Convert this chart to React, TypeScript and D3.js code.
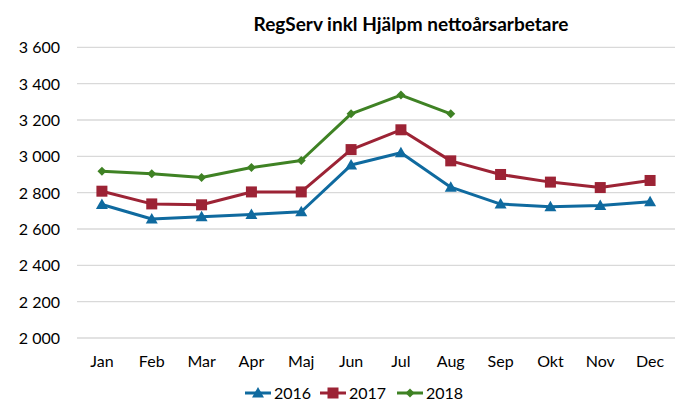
import React from "react";
import * as d3 from "d3";

const months = ["Jan","Feb","Mar","Apr","Maj","Jun","Jul","Aug","Sep","Okt","Nov","Dec"];
const v2016 = [2735,2655,2667,2680,2695,2952,3020,2830,2737,2723,2729,2750];
const v2017 = [2808,2738,2733,2804,2804,3037,3146,2975,2900,2858,2828,2867];
const v2018 = [2918,2904,2883,2938,2977,3234,3337,3234];
const yTicks = [2000,2200,2400,2600,2800,3000,3200,3400,3600];
const seriesNames = ["2016","2017","2018"];
const colors = ["#0F6A9F","#9C2335","#3F8224"];
const title = "RegServ inkl Hjälpm nettoårsarbetare";

const FONT = "Lato, 'Open Sans', sans-serif";

function Marker({ kind, x, y, color }: { kind: number; x: number; y: number; color: string }) {
  if (kind === 0) {
    const s = 6;
    return <path d={`M${x},${y - s} L${x + s},${y + s * 0.75} L${x - s},${y + s * 0.75} Z`} fill={color} />;
  }
  if (kind === 1) {
    return <rect x={x - 5.5} y={y - 5.5} width={11} height={11} fill={color} />;
  }
  return <path d={`M${x},${y - 4.5} L${x + 4.5},${y} L${x},${y + 4.5} L${x - 4.5},${y} Z`} fill={color} />;
}

export default function App() {
  const W = 682, H = 401;
  const x = d3.scaleBand().domain(months).range([77, 675]);
  const y = d3.scaleLinear().domain([2000, 3600]).range([338, 47.3]);
  const series = [v2016, v2017, v2018];
  const line = d3.line<number>()
    .x((_, i) => (x(months[i]) as number) + x.bandwidth() / 2)
    .y((d) => y(d));
  const legendX = [245, 320, 397];
  return (
    <svg width={W} height={H} style={{ position: "absolute", left: 0, top: 0, fontFamily: FONT }}>
      <rect width={W} height={H} fill="#fff" />
      <text x={411} y={31} textAnchor="middle" fontSize={19} fontWeight="bold" fill="#000">{title}</text>
      {yTicks.map((t) => (
        <g key={t}>
          <line x1={77} x2={675} y1={y(t)} y2={y(t)} stroke="#d9d9d9" strokeWidth={1.3} />
          <text x={60} y={y(t)} dy="0.37em" textAnchor="end" fontSize={16} fill="#000">
            {d3.format(",")(t).replace(",", " ")}
          </text>
        </g>
      ))}
      {months.map((m) => (
        <text key={m} x={(x(m) as number) + x.bandwidth() / 2} y={367} textAnchor="middle" fontSize={16} fill="#000">{m}</text>
      ))}
      {series.map((s, si) => (
        <g key={si}>
          <path d={line(s) || ""} fill="none" stroke={colors[si]} strokeWidth={3} strokeLinejoin="round" />
          {s.map((v, i) => (
            <Marker key={i} kind={si} x={(x(months[i]) as number) + x.bandwidth() / 2} y={y(v)} color={colors[si]} />
          ))}
        </g>
      ))}
      {seriesNames.map((n, si) => (
        <g key={n}>
          <line x1={legendX[si]} x2={legendX[si] + 26} y1={393} y2={393} stroke={colors[si]} strokeWidth={3} />
          <Marker kind={si} x={legendX[si] + 13} y={393} color={colors[si]} />
          <text x={legendX[si] + 29} y={393} dy="0.37em" fontSize={16} fill="#000">{n}</text>
        </g>
      ))}
    </svg>
  );
}
